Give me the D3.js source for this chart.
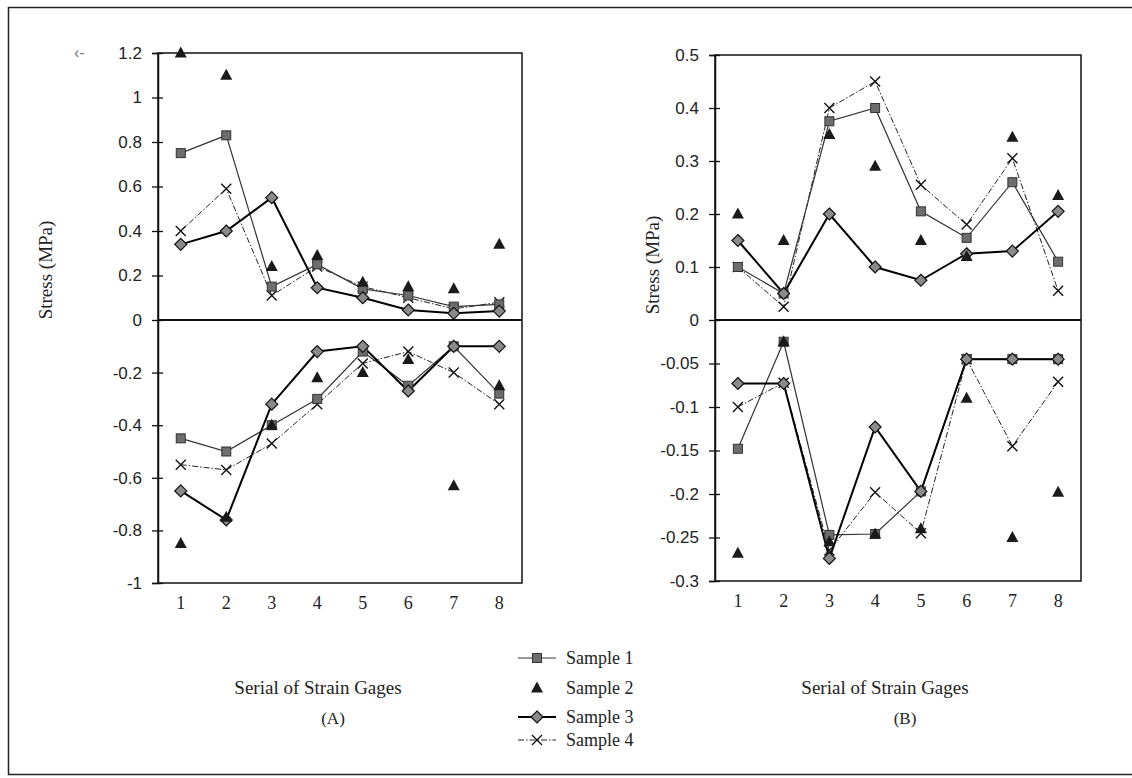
<!DOCTYPE html>
<html>
<head>
  <meta charset="utf-8">
  <title>Stress of strain gages</title>
  <script src="https://d3js.org/d3.v7.min.js"></script>
  <style>
    body { margin: 0; background: #fff; }
  </style>
</head>
<body>
<div id="vis"></div>
<script>
  // serial numbers of the strain gages
  var gages = [1, 2, 3, 4, 5, 6, 7, 8];
  var sampleNames = ['Sample 1', 'Sample 2', 'Sample 3', 'Sample 4'];

  // panel A, tension part (above zero) and compression part (below zero)
  var aS1Pos = [0.75, 0.83, 0.15, 0.25, 0.14, 0.11, 0.06, 0.07];
  var aS2Pos = [1.2, 1.1, 0.24, 0.29, 0.17, 0.15, 0.14, 0.34];
  var aS3Pos = [0.34, 0.40, 0.55, 0.145, 0.10, 0.045, 0.03, 0.04];
  var aS4Pos = [0.40, 0.59, 0.11, 0.24, 0.15, 0.10, 0.05, 0.08];
  var aS1Neg = [-0.45, -0.50, -0.40, -0.30, -0.12, -0.25, -0.10, -0.28];
  var aS2Neg = [-0.85, -0.75, -0.40, -0.22, -0.20, -0.15, -0.63, -0.25];
  var aS3Neg = [-0.65, -0.76, -0.32, -0.12, -0.10, -0.27, -0.10, -0.10];
  var aS4Neg = [-0.55, -0.57, -0.47, -0.32, -0.165, -0.12, -0.20, -0.32];

  // panel B
  var bS1Pos = [0.10, 0.05, 0.375, 0.40, 0.205, 0.155, 0.26, 0.11];
  var bS2Pos = [0.20, 0.15, 0.35, 0.29, 0.15, 0.12, 0.345, 0.235];
  var bS3Pos = [0.15, 0.05, 0.20, 0.10, 0.075, 0.125, 0.13, 0.205];
  var bS4Pos = [0.10, 0.025, 0.40, 0.45, 0.255, 0.18, 0.305, 0.055];
  var bS1Neg = [-0.148, -0.025, -0.247, -0.246, -0.197, -0.045, -0.045, -0.045];
  var bS2Neg = [-0.268, -0.025, -0.255, -0.246, -0.24, -0.09, -0.25, -0.198];
  var bS3Neg = [-0.073, -0.073, -0.274, -0.123, -0.197, -0.045, -0.045, -0.045];
  var bS4Neg = [-0.10, -0.072, -0.265, -0.198, -0.245, -0.045, -0.145, -0.071];

  // tick labels
  var aTicks = [1.2, 1, 0.8, 0.6, 0.4, 0.2, 0, -0.2, -0.4, -0.6, -0.8, -1];
  var bTicks = [0.5, 0.4, 0.3, 0.2, 0.1, 0, -0.05, -0.1, -0.15, -0.2, -0.25, -0.3];

  var serif = "'Liberation Serif', 'DejaVu Serif', serif";
  var sans = "'Liberation Sans', Arial, sans-serif";

  var width = 1132, height = 778;

  var svg = d3.select('#vis')
    .append('svg')
    .attr('width', width)
    .attr('height', height);

  // outer frame (right side runs off the picture)
  svg.append('rect')
    .attr('x', 8.5).attr('y', 7.5)
    .attr('width', 1140).attr('height', 767)
    .attr('fill', 'none')
    .attr('stroke', '#222')
    .attr('stroke-width', 1.5);

  // marker / line look per sample
  var styles = [
    { marker: 'square', line: true, stroke: '#333', sw: 1.2, dash: null },
    { marker: 'triangle', line: false },
    { marker: 'diamond', line: true, stroke: '#000', sw: 2, dash: null },
    { marker: 'x', line: true, stroke: '#222', sw: 1, dash: '6,2,1.5,2' }
  ];

  function drawMarker(g, type, cx, cy) {
    if (type === 'square') {
      g.append('rect')
        .attr('x', cx - 4.5).attr('y', cy - 4.5)
        .attr('width', 9).attr('height', 9)
        .attr('fill', '#6d6d6d').attr('stroke', '#333').attr('stroke-width', 1);
    } else if (type === 'triangle') {
      g.append('path')
        .attr('d', 'M' + cx + ',' + (cy - 6.5) + 'L' + (cx + 6) + ',' + (cy + 4.5) + 'L' + (cx - 6) + ',' + (cy + 4.5) + 'Z')
        .attr('fill', '#1a1a1a');
    } else if (type === 'diamond') {
      g.append('path')
        .attr('d', 'M' + cx + ',' + (cy - 6) + 'L' + (cx + 6) + ',' + cy + 'L' + cx + ',' + (cy + 6) + 'L' + (cx - 6) + ',' + cy + 'Z')
        .attr('fill', '#8a8a8a').attr('stroke', '#111').attr('stroke-width', 1.2);
    } else {
      g.append('path')
        .attr('d', 'M' + (cx - 5) + ',' + (cy - 5) + 'L' + (cx + 5) + ',' + (cy + 5) + 'M' + (cx + 5) + ',' + (cy - 5) + 'L' + (cx - 5) + ',' + (cy + 5))
        .attr('stroke', '#111').attr('stroke-width', 1.4).attr('fill', 'none');
    }
  }

  var panels = [
    {
      left: 158, right: 522, top: 53, bottom: 583,
      yDomain: [-1, 0, 1.2], ticks: aTicks,
      pos: [aS1Pos, aS2Pos, aS3Pos, aS4Pos],
      neg: [aS1Neg, aS2Neg, aS3Neg, aS4Neg],
      yTitleX: 45, yTitleY: 270, xTitleX: 318, tag: '(A)', tagX: 333
    },
    {
      left: 715, right: 1081, top: 55, bottom: 581,
      yDomain: [-0.3, 0, 0.5], ticks: bTicks,
      pos: [bS1Pos, bS2Pos, bS3Pos, bS4Pos],
      neg: [bS1Neg, bS2Neg, bS3Neg, bS4Neg],
      yTitleX: 652, yTitleY: 265, xTitleX: 885, tag: '(B)', tagX: 905
    }
  ];

  panels.forEach(function (p) {
    var x = d3.scaleBand().domain(gages).range([p.left, p.right]);
    // the zero line sits at the same height in both panels, each half has its own step
    var y = d3.scaleLinear().domain(p.yDomain).range([p.bottom, 320, p.top]);
    var cx = function (i) { return x(gages[i]) + x.bandwidth() / 2; };

    var g = svg.append('g');

    g.append('rect')
      .attr('x', p.left).attr('y', p.top)
      .attr('width', p.right - p.left).attr('height', p.bottom - p.top)
      .attr('fill', 'none').attr('stroke', '#111').attr('stroke-width', 1.5);

    g.append('line')
      .attr('x1', p.left).attr('x2', p.right)
      .attr('y1', y(0)).attr('y2', y(0))
      .attr('stroke', '#111').attr('stroke-width', 1.8);

    var yAxis = g.append('g')
      .attr('transform', 'translate(' + p.left + ',0)')
      .call(d3.axisLeft(y).tickValues(p.ticks).tickSize(6).tickPadding(10)
        .tickFormat(function (d) { return String(d); }));
    yAxis.select('.domain').attr('stroke', '#111').attr('stroke-width', 1.5);
    yAxis.selectAll('.tick line').attr('x1', 5).attr('stroke', '#111').attr('stroke-width', 1.3);
    yAxis.selectAll('.tick text')
      .style('font-family', sans).style('font-size', '17px').attr('fill', '#222');

    var xAxis = g.append('g')
      .attr('transform', 'translate(0,' + p.bottom + ')')
      .call(d3.axisBottom(x).tickSize(0).tickPadding(13));
    xAxis.select('.domain').remove();
    xAxis.selectAll('.tick text')
      .style('font-family', serif).style('font-size', '18px').attr('fill', '#222');

    var line = d3.line()
      .x(function (d, i) { return cx(i); })
      .y(function (d) { return y(d); });

    // lines first, sample 4 at the back
    [3, 0, 2].forEach(function (s) {
      var st = styles[s];
      [p.pos[s], p.neg[s]].forEach(function (vals) {
        g.append('path')
          .attr('d', line(vals))
          .attr('fill', 'none')
          .attr('stroke', st.stroke)
          .attr('stroke-width', st.sw)
          .attr('stroke-dasharray', st.dash);
      });
    });

    [3, 0, 2, 1].forEach(function (s) {
      [p.pos[s], p.neg[s]].forEach(function (vals) {
        vals.forEach(function (v, i) {
          drawMarker(g, styles[s].marker, cx(i), y(v));
        });
      });
    });

    g.append('text')
      .attr('transform', 'translate(' + p.yTitleX + ',' + p.yTitleY + ') rotate(-90)')
      .attr('text-anchor', 'middle')
      .attr('dy', '0.35em')
      .style('font-family', serif).style('font-size', '19px').attr('fill', '#222')
      .text('Stress (MPa)');

    g.append('text')
      .attr('x', p.xTitleX).attr('y', 694)
      .attr('text-anchor', 'middle')
      .style('font-family', serif).style('font-size', '19px').attr('fill', '#222')
      .text('Serial of Strain Gages');

    g.append('text')
      .attr('x', p.tagX).attr('y', 724)
      .attr('text-anchor', 'middle')
      .style('font-family', serif).style('font-size', '17px').attr('fill', '#222')
      .text(p.tag);
  });

  // scan mark next to the top tick of panel A
  svg.append('text')
    .attr('x', 74).attr('y', 58)
    .style('font-family', sans).style('font-size', '16px').attr('fill', '#777')
    .text('‹-');

  // legend
  var legendY = [658, 688, 717, 740];
  var legend = svg.append('g');
  sampleNames.forEach(function (name, s) {
    var st = styles[s];
    if (st.line) {
      legend.append('line')
        .attr('x1', 518).attr('x2', 556)
        .attr('y1', legendY[s]).attr('y2', legendY[s])
        .attr('stroke', st.stroke).attr('stroke-width', st.sw)
        .attr('stroke-dasharray', st.dash);
    }
    drawMarker(legend, st.marker, 537, legendY[s]);
    legend.append('text')
      .attr('x', 566).attr('y', legendY[s])
      .attr('dy', '0.35em')
      .style('font-family', serif).style('font-size', '18px').attr('fill', '#222')
      .text(name);
  });
</script>
</body>
</html>
